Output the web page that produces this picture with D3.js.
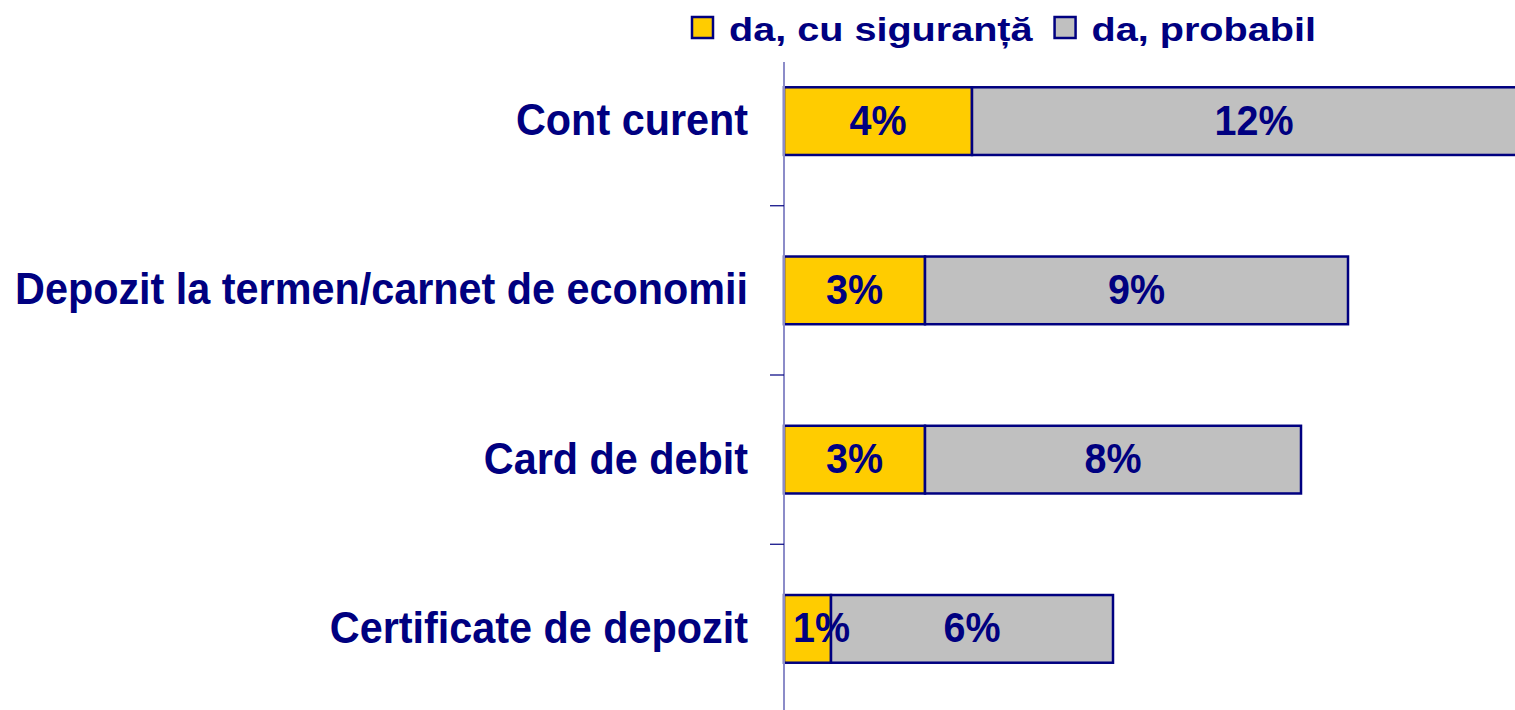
<!DOCTYPE html>
<html>
<head>
<meta charset="utf-8">
<script src="https://cdn.jsdelivr.net/npm/d3@7"></script>
<style>
  html, body { margin: 0; padding: 0; background: #fff; overflow: hidden; }
  svg { display: block; font-family: "Liberation Sans", Arial, sans-serif; font-weight: bold; }
</style>
</head>
<body>
<div id="chart"></div>
<script>
// ── Data ────────────────────────────────────────────────────────────────
const categories = [
  "Cont curent",
  "Depozit la termen/carnet de economii",
  "Card de debit",
  "Certificate de depozit",
];
const seriesNames = ["da, cu siguranță", "da, probabil"];
const sigur = [4, 3, 3, 1];
const probabil = [12, 9, 8, 6];

const colors = ["#FFCC00", "#C0C0C0"];
const navy = "#000080";

// ── Dimensions ──────────────────────────────────────────────────────────
const W = 1515, H = 710;
const x0 = 784;

const svg = d3.select("#chart").append("svg")
  .attr("width", W).attr("height", H);

const x = d3.scaleLinear().domain([0, 16]).range([x0, x0 + 752]);
const y = d3.scaleBand().domain(categories).range([36.5, 713.5]).paddingInner(0.6).paddingOuter(0.3);

const rows = categories.map((c, i) => ({ cat: c, vals: [sigur[i], probabil[i]] }));

// ── Bars ────────────────────────────────────────────────────────────────
rows.forEach((r) => {
  let acc = 0;
  r.vals.forEach((v, k) => {
    const a = x(acc), b = x(acc + v);
    svg.append("rect")
      .attr("x", a).attr("y", y(r.cat))
      .attr("width", b - a).attr("height", y.bandwidth())
      .attr("fill", colors[k])
      .attr("stroke", navy).attr("stroke-width", 2.5);
    acc += v;
  });
});

// ── Value labels ─────────────────────────────────────────────────────────
const valSx = 0.94;
rows.forEach((r) => {
  let acc = 0;
  r.vals.forEach((v) => {
    const a = x(acc), b = x(acc + v);
    const t = svg.append("text")
      .attr("text-anchor", "middle")
      .attr("fill", navy)
      .style("font-size", "42px")
      .text(`${v}%`);
    const w = t.node().getComputedTextLength() * valSx;
    const cx = Math.max((a + b) / 2, x0 + 9 + w / 2);
    const cy = y(r.cat) + y.bandwidth() / 2 + 13.5;
    t.attr("transform", `translate(${cx},${cy}) scale(${valSx},1)`);
    acc += v;
  });
});

// ── Axis ────────────────────────────────────────────────────────────────
svg.append("line")
  .attr("x1", x0).attr("x2", x0)
  .attr("y1", 62).attr("y2", H)
  .attr("stroke", "#8c8cc8").attr("stroke-width", 2);

categories.slice(1).forEach((c) => {
  const ty = y(c) - (y.step() - y.bandwidth()) / 2;
  svg.append("line")
    .attr("x1", x0 - 14).attr("x2", x0)
    .attr("y1", ty).attr("y2", ty)
    .attr("stroke", navy).attr("stroke-width", 1.2);
});

svg.selectAll(".cat")
  .data(categories)
  .join("text")
  .attr("class", "cat")
  .attr("transform", (d) => `translate(748,${y(d) + y.bandwidth() / 2 + 14}) scale(0.94,1)`)
  .attr("text-anchor", "end")
  .attr("fill", navy)
  .style("font-size", "44px")
  .text((d) => d);

// ── Legend ───────────────────────────────────────────────────────────────
const legend = svg.append("g");
const legSx = 1.2;
let lx = 692;
seriesNames.forEach((s, k) => {
  legend.append("rect")
    .attr("x", lx).attr("y", 17)
    .attr("width", 21).attr("height", 21)
    .attr("fill", colors[k])
    .attr("stroke", navy).attr("stroke-width", 2.5);
  const t = legend.append("text")
    .attr("transform", `translate(${lx + 37},41) scale(${legSx},1)`)
    .attr("fill", navy)
    .style("font-size", "33px")
    .text(s);
  lx += 37 + t.node().getComputedTextLength() * legSx + 22;
});
</script>
</body>
</html>
